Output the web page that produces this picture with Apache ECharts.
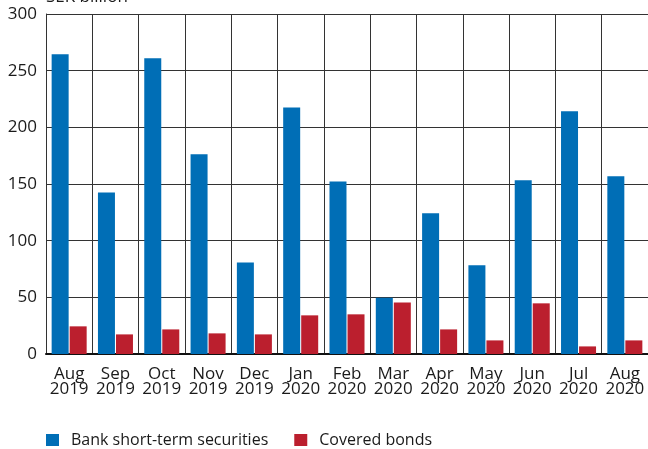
<!DOCTYPE html>
<html>
<head>
<meta charset="utf-8">
<script src="https://cdn.jsdelivr.net/npm/echarts@6/dist/echarts.min.js"></script>
<style>html,body{margin:0;padding:0;background:#fff;}#c{width:648px;height:449px;}</style>
</head>
<body>
<div id="c"></div>
<script>
const categories = ['Aug\n2019','Sep\n2019','Oct\n2019','Nov\n2019','Dec\n2019','Jan\n2020','Feb\n2020','Mar\n2020','Apr\n2020','May\n2020','Jun\n2020','Jul\n2020','Aug\n2020'];
const bankShortTerm = [264.5, 142.6, 261, 176.2, 80.8, 217.6, 152.3, 49.7, 124.1, 78.2, 153.2, 214.1, 156.8];
const coveredBonds = [24.4, 17.3, 21.7, 18.2, 17.3, 34.1, 35, 45.5, 21.7, 12, 44.7, 6.7, 12];
const yTicks = {min: 0, max: 300, interval: 50};
const unitLabel = 'SEK billion';

const font = 'Open Sans';
const chart = echarts.init(document.getElementById('c'), null, {renderer: 'canvas'});
chart.setOption({
  animation: false,
  textStyle: {fontFamily: font},
  graphic: [{type: 'text', left: 46, top: -11, style: {text: unitLabel, font: '17px "Open Sans"', fill: '#1a1a1a'}}],
  grid: {left: 46, right: -3, top: 14, bottom: 95, containLabel: false},
  legend: {
    left: 46, top: 432, padding: 0, itemWidth: 13, itemHeight: 12, itemGap: 26, icon: 'rect',
    textStyle: {fontSize: 16, color: '#1a1a1a', fontFamily: font, padding: [0, 0, 0, 7]},
    data: ['Bank short-term securities', 'Covered bonds']
  },
  xAxis: {
    type: 'category', data: categories,
    axisLine: {show: true, lineStyle: {color: '#111', width: 2}},
    axisTick: {show: false},
    axisLabel: {fontSize: 17, color: '#1a1a1a', lineHeight: 15, margin: 13, interval: 0},
    splitLine: {show: true, interval: 0, lineStyle: {color: '#333', width: 1}}
  },
  yAxis: {
    type: 'value', min: yTicks.min, max: yTicks.max, interval: yTicks.interval,
    axisLine: {show: true, lineStyle: {color: '#333', width: 1}},
    axisTick: {show: false},
    axisLabel: {fontSize: 17, color: '#1a1a1a', margin: 9},
    splitLine: {show: true, lineStyle: {color: '#333', width: 1}}
  },
  series: [
    {name: 'Bank short-term securities', type: 'bar', data: bankShortTerm, barWidth: 17, barGap: '6%', itemStyle: {color: '#006EB6'}},
    {name: 'Covered bonds', type: 'bar', data: coveredBonds, barWidth: 17, itemStyle: {color: '#BB1F2E'}}
  ]
});
</script>
</body>
</html>
